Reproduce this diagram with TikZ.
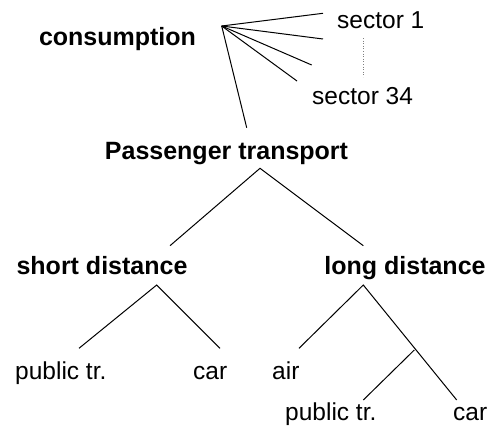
\documentclass[tikz,border=0pt]{standalone}
\usepackage{fontspec}
\setmainfont{Liberation Sans}
\begin{document}
\begin{tikzpicture}[x=1pt,y=-1pt,
  lbl/.style={inner sep=0pt,font=\fontsize{24.5}{28}\selectfont},
  hdr/.style={inner sep=0pt,font=\fontsize{25}{29}\selectfont\bfseries},
  edge/.style={draw=black,line width=1pt},
  dots/.style={draw=gray,line width=0.6pt,dotted}]
\useasboundingbox (0,0) rectangle (490,434);
% text nodes
\node[hdr,anchor=base] (cons) at (117.5,45) {consumption};
\node[lbl,anchor=base west] (s1) at (337,28) {sector 1};
\node[lbl,anchor=base west] (s34) at (312,104) {sector 34};
\node[hdr,anchor=base] (pt) at (226.5,159) {Passenger transport};
\node[hdr,anchor=base] (sd) at (102,274) {short distance};
\node[hdr,anchor=base] (ld) at (405,274) {long distance};
\node[lbl,anchor=base west] (pub1) at (15,379) {public tr.};
\node[lbl,anchor=base west] (car1) at (193,379) {car};
\node[lbl,anchor=base west] (air) at (272,379) {air};
\node[lbl,anchor=base west] (pub2) at (285,420) {public tr.};
\node[lbl,anchor=base west] (car2) at (453,420) {car};
% connector points
\coordinate (fan) at (221.7,26);
\coordinate (f1) at (323,13.3);
\coordinate (f2) at (323,39);
\coordinate (f3) at (311.7,65);
\coordinate (f4) at (297,81);
\coordinate (f5) at (246.7,127.7);
\coordinate (d1) at (363.3,38);
\coordinate (d2) at (363.3,77);
\coordinate (ptT) at (260,168.3);
\coordinate (sdT) at (170,245.7);
\coordinate (ldT) at (363.3,245.7);
\coordinate (sdB) at (156.7,285);
\coordinate (pub1T) at (79,348.3);
\coordinate (car1T) at (220,348.3);
\coordinate (ldB) at (363.3,285);
\coordinate (airT) at (299,348.3);
\coordinate (junc) at (414.3,350);
\coordinate (pub2T) at (363.3,400);
\coordinate (car2T) at (456.7,400);
% connectors
\draw[edge] (fan) -- (f1);
\draw[edge] (fan) -- (f2);
\draw[edge] (fan) -- (f3);
\draw[edge] (fan) -- (f4);
\draw[edge] (fan) -- (f5);
\draw[dots] (d1) -- (d2);
\draw[edge] (sdT) -- (ptT) -- (ldT);
\draw[edge] (pub1T) -- (sdB) -- (car1T);
\draw[edge] (airT) -- (ldB) -- (car2T);
\draw[edge] (junc) -- (pub2T);
\end{tikzpicture}
\end{document}
